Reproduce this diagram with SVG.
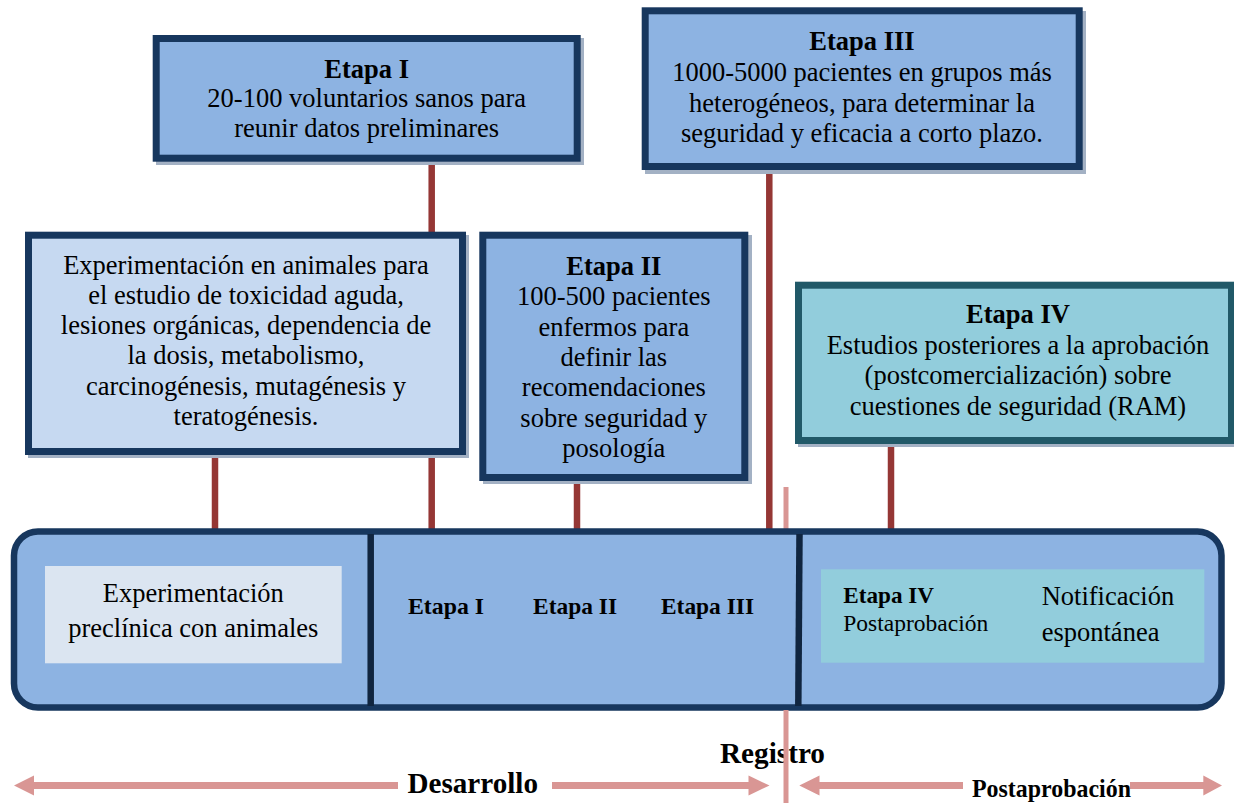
<svg xmlns="http://www.w3.org/2000/svg" width="1234" height="803" viewBox="0 0 1234 803">
<style>
text{font-family:"Liberation Serif","Times New Roman",serif;fill:#000}
.t{font-size:26.5px;text-anchor:middle}
.b{font-weight:bold}
.box{stroke:#17375e;stroke-width:7}
.blue{fill:#8db3e2}
.light{fill:#c6d9f1}
.teal{fill:#92cddc;stroke:#215968;stroke-width:7}
.sh{fill:#a3b1c4}
.red{stroke:#953735;stroke-width:6.5}
.pink{stroke:#d99694;stroke-width:5}
.arr{stroke:#d99694;stroke-width:7}
.head{fill:#d99694}
.div{stroke:#10253f;stroke-width:6.5}
</style>
<rect width="1234" height="803" fill="#fff"/>
<g id="connectors">
<line class="red" x1="431.7" y1="162" x2="431.7" y2="235"/>
<line class="red" x1="215" y1="455" x2="215" y2="531"/>
<line class="red" x1="431.7" y1="455" x2="431.7" y2="531"/>
<line class="red" x1="577" y1="481" x2="577" y2="531"/>
<line class="red" x1="769.3" y1="170" x2="769.3" y2="531"/>
<line class="red" x1="891" y1="444" x2="891" y2="531"/>
<line class="pink" x1="786" y1="487" x2="786" y2="531"/>
</g>
<g id="etapa1">
<rect class="sh" x="156" y="38" width="428" height="127"/>
<rect class="box blue" x="156.2" y="38.5" width="421" height="119.7"/>
<text class="t b" x="366.7" y="77.7">Etapa I</text>
<text class="t" x="366.7" y="107">20-100 voluntarios sanos para</text>
<text class="t" x="366.7" y="136.7">reunir datos preliminares</text>
</g>
<g id="etapa3">
<rect class="sh" x="645" y="11" width="441" height="163"/>
<rect class="box blue" x="645.2" y="10.8" width="434" height="155.7"/>
<text class="t b" x="862" y="50">Etapa III</text>
<text class="t" x="862" y="81">1000-5000 pacientes en grupos más</text>
<text class="t" x="862" y="111.5">heterogéneos, para determinar la</text>
<text class="t" x="862" y="141.7">seguridad y eficacia a corto plazo.</text>
</g>
<g id="preclinica">
<rect class="sh" x="28" y="235" width="441" height="223"/>
<rect class="box light" x="28.5" y="235.2" width="434" height="216.3"/>
<text class="t" x="246" y="273.5">Experimentación en animales para</text>
<text class="t" x="246" y="303.8">el estudio de toxicidad aguda,</text>
<text class="t" x="246" y="334">lesiones orgánicas, dependencia de</text>
<text class="t" x="246" y="364.3">la dosis, metabolismo,</text>
<text class="t" x="246" y="394.6">carcinogénesis, mutagénesis y</text>
<text class="t" x="246" y="425">teratogénesis.</text>
</g>
<g id="etapa2">
<rect class="sh" x="483" y="235" width="269" height="249"/>
<rect class="box blue" x="482.8" y="235.2" width="262" height="242.3"/>
<text class="t b" x="613.8" y="275">Etapa II</text>
<text class="t" x="613.8" y="305.3">100-500 pacientes</text>
<text class="t" x="613.8" y="335.6">enfermos para</text>
<text class="t" x="613.8" y="366">definir las</text>
<text class="t" x="613.8" y="396.3">recomendaciones</text>
<text class="t" x="613.8" y="426.6">sobre seguridad y</text>
<text class="t" x="613.8" y="457">posología</text>
</g>
<g id="etapa4">
<rect class="sh" x="798" y="285" width="440" height="162"/>
<rect class="teal" x="798.5" y="285.2" width="433" height="155.3"/>
<text class="t b" x="1018" y="323.3">Etapa IV</text>
<text class="t" x="1018" y="353.6">Estudios posteriores a la aprobación</text>
<text class="t" x="1018" y="384">(postcomercialización) sobre</text>
<text class="t" x="1018" y="414.5">cuestiones de seguridad (RAM)</text>
</g>
<g id="timeline">
<rect x="14" y="531.5" width="1207.5" height="176" rx="24" ry="24" fill="#8db3e2" stroke="#17375e" stroke-width="6.5"/>
<line class="div" x1="370.7" y1="534" x2="370.7" y2="706"/>
<line class="div" x1="799.5" y1="534" x2="798.3" y2="706"/>
<rect x="45" y="566" width="296.7" height="97.3" fill="#dbe5f1"/>
<text class="t" x="193.3" y="601.7">Experimentación</text>
<text class="t" x="193.3" y="637.3">preclínica con animales</text>
<text class="b" x="408" y="614" font-size="22.5" textLength="76" lengthAdjust="spacingAndGlyphs">Etapa I</text>
<text class="b" x="533" y="614" font-size="22.5" textLength="84" lengthAdjust="spacingAndGlyphs">Etapa II</text>
<text class="b" x="661" y="614" font-size="22.5" textLength="93" lengthAdjust="spacingAndGlyphs">Etapa III</text>
<rect x="821" y="569.3" width="383.3" height="93.4" fill="#92cddc"/>
<text class="b" x="843.3" y="603.3" font-size="22.5" textLength="90.7" lengthAdjust="spacingAndGlyphs">Etapa IV</text>
<text x="843.3" y="630.7" font-size="23.5">Postaprobación</text>
<text x="1041.7" y="605" font-size="26.5">Notificación</text>
<text x="1041.7" y="640.7" font-size="26.5">espontánea</text>
</g>
<g id="axis">
<line class="arr" x1="32" y1="785.5" x2="398" y2="785.5"/>
<polygon class="head" points="14,785.5 34,775.5 34,795.5"/>
<line class="arr" x1="552" y1="785.5" x2="750" y2="785.5"/>
<polygon class="head" points="769.5,785.5 748.5,775.5 748.5,795.5"/>
<line class="arr" x1="817" y1="785.5" x2="963" y2="785.5"/>
<polygon class="head" points="799.3,785.5 819.5,775.5 819.5,795.5"/>
<line class="arr" x1="1130" y1="785.5" x2="1205" y2="785.5"/>
<polygon class="head" points="1222,785.5 1203.3,775.5 1203.3,795.5"/>
<text class="b" x="407.5" y="793" font-size="29" textLength="130.5" lengthAdjust="spacingAndGlyphs">Desarrollo</text>
<text class="b" x="720" y="763.3" font-size="29.5" textLength="105" lengthAdjust="spacingAndGlyphs">Registro</text>
<text class="b" x="972" y="796.5" font-size="25" textLength="159" lengthAdjust="spacingAndGlyphs">Postaprobación</text>
<line class="pink" x1="786" y1="710" x2="786" y2="803"/>
</g>
</svg>
